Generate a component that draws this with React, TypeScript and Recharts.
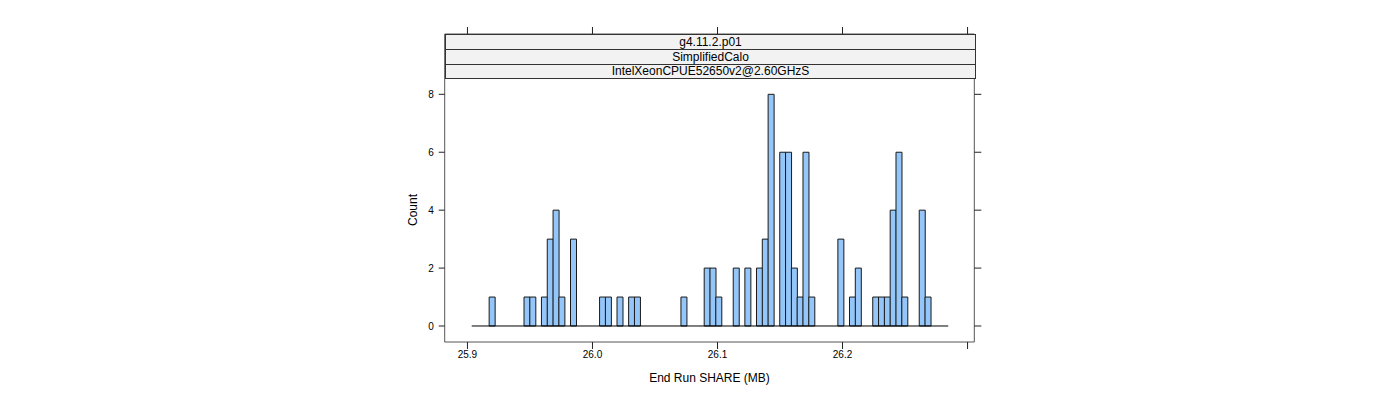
import { Bar, BarChart, ReferenceLine, XAxis, YAxis } from 'recharts';

// histogram breaks (MB) and counts per bin
const BREAK_START = 25.9034;
const BREAK_END = 26.2846;
const COUNTS = [
    0, 0, 0, 1, 0, 0, 0, 0, 0, 1,
    1, 0, 1, 3, 4, 1, 0, 3, 0, 0,
    0, 0, 1, 1, 0, 1, 0, 1, 1, 0,
    0, 0, 0, 0, 0, 0, 1, 0, 0, 0,
    2, 2, 1, 0, 0, 2, 0, 2, 0, 2,
    3, 8, 0, 6, 6, 2, 1, 6, 1, 0,
    0, 0, 0, 3, 0, 1, 2, 0, 0, 1,
    1, 1, 4, 6, 1, 0, 0, 4, 1, 0,
    0, 0,
];

const X_TICKS = [25.9, 26.0, 26.1, 26.2, 26.3];
const X_TICK_LABELS = ['25.9', '26.0', '26.1', '26.2', ''];
const Y_TICKS = [0, 2, 4, 6, 8];
const STRIPS = ['g4.11.2.p01', 'SimplifiedCalo', 'IntelXeonCPUE52650v2@2.60GHzS'];

const X_DOMAIN = [25.8818, 26.3054];
const Y_DOMAIN = [-0.5525, 10.083];

const binWidth = (BREAK_END - BREAK_START) / COUNTS.length;
const data = COUNTS.map((count, i) => ({
    mid: BREAK_START + (i + 0.5) * binWidth,
    count,
}));

const FONT = '"Liberation Sans", Arial, Helvetica, sans-serif';
const AXIS_COLOR = '#555';
const TICK_COLOR = '#222';
const tickStyle = { fill: '#000', fontSize: 10, fontFamily: FONT };

// tick marks only, no labels
const NoLabel = () => <g />;

const CountLabel = ({ viewBox }: { viewBox?: { x: number; y: number; width: number; height: number } }) => {
    if (!viewBox) return null;
    const x = viewBox.x + viewBox.width - 32;
    const y = 210;
    return (
        <text
            x={x}
            y={y}
            transform={`rotate(-90, ${x}, ${y})`}
            textAnchor='middle'
            dominantBaseline='central'
            fontSize={12}
            fontFamily={FONT}
            fill='#000'
        >
            Count
        </text>
    );
};

export default function App() {
    return (
        <div style={{ position: 'absolute', left: 0, top: 0, width: 1400, height: 400, fontFamily: FONT }}>
            <BarChart
                width={1400}
                height={400}
                data={data}
                margin={{ top: 0, right: 0, bottom: 0, left: 0 }}
                barCategoryGap={0}
                barGap={0}
            >
                <XAxis
                    type='number'
                    dataKey='mid'
                    domain={X_DOMAIN}
                    allowDataOverflow
                    ticks={X_TICKS}
                    interval={0}
                    tickFormatter={(v) => X_TICK_LABELS[X_TICKS.indexOf(Number(v))] ?? ''}
                    height={58}
                    tickSize={7}
                    tickMargin={2}
                    axisLine={{ stroke: AXIS_COLOR }}
                    tickLine={{ stroke: TICK_COLOR }}
                    tick={tickStyle}
                    label={{
                        value: 'End Run SHARE (MB)',
                        position: 'insideBottom',
                        offset: 18,
                        fontSize: 12,
                        fontFamily: FONT,
                        fill: '#000',
                    }}
                />
                <XAxis
                    xAxisId='top'
                    orientation='top'
                    type='number'
                    dataKey='mid'
                    domain={X_DOMAIN}
                    allowDataOverflow
                    ticks={X_TICKS}
                    interval={0}
                    height={34}
                    tickSize={7}
                    tick={NoLabel}
                    axisLine={{ stroke: AXIS_COLOR }}
                    tickLine={{ stroke: TICK_COLOR }}
                />
                <YAxis
                    type='number'
                    domain={Y_DOMAIN}
                    allowDataOverflow
                    ticks={Y_TICKS}
                    interval={0}
                    width={444.7}
                    tickSize={6}
                    tickMargin={5}
                    axisLine={{ stroke: AXIS_COLOR }}
                    tickLine={{ stroke: TICK_COLOR }}
                    tick={tickStyle}
                    label={<CountLabel />}
                />
                <YAxis
                    yAxisId='right'
                    orientation='right'
                    type='number'
                    domain={Y_DOMAIN}
                    allowDataOverflow
                    ticks={Y_TICKS}
                    interval={0}
                    width={425.7}
                    tickSize={7}
                    tick={NoLabel}
                    axisLine={{ stroke: AXIS_COLOR }}
                    tickLine={{ stroke: TICK_COLOR }}
                />
                <ReferenceLine
                    segment={[
                        { x: BREAK_START, y: 0 },
                        { x: BREAK_END, y: 0 },
                    ]}
                    stroke='#000'
                    strokeWidth={1}
                    ifOverflow='visible'
                />
                <Bar
                    dataKey='count'
                    fill='#94c6fa'
                    stroke='#1a1a1a'
                    strokeWidth={1}
                    isAnimationActive={false}
                />
            </BarChart>
            <div
                style={{
                    position: 'absolute',
                    left: 445,
                    top: 34,
                    width: 529,
                    border: '1px solid #333',
                    borderBottom: 'none',
                    boxSizing: 'content-box',
                }}
            >
                {STRIPS.map((s, i) => (
                    <div
                        key={s}
                        style={{
                            height: i === 2 ? 13 : 14,
                            lineHeight: i === 2 ? '13px' : '14px',
                            borderBottom: '1px solid #333',
                            background: '#f2f2f2',
                            textAlign: 'center',
                            fontSize: 12,
                            color: '#000',
                        }}
                    >
                        {s}
                    </div>
                ))}
            </div>
        </div>
    );
}
